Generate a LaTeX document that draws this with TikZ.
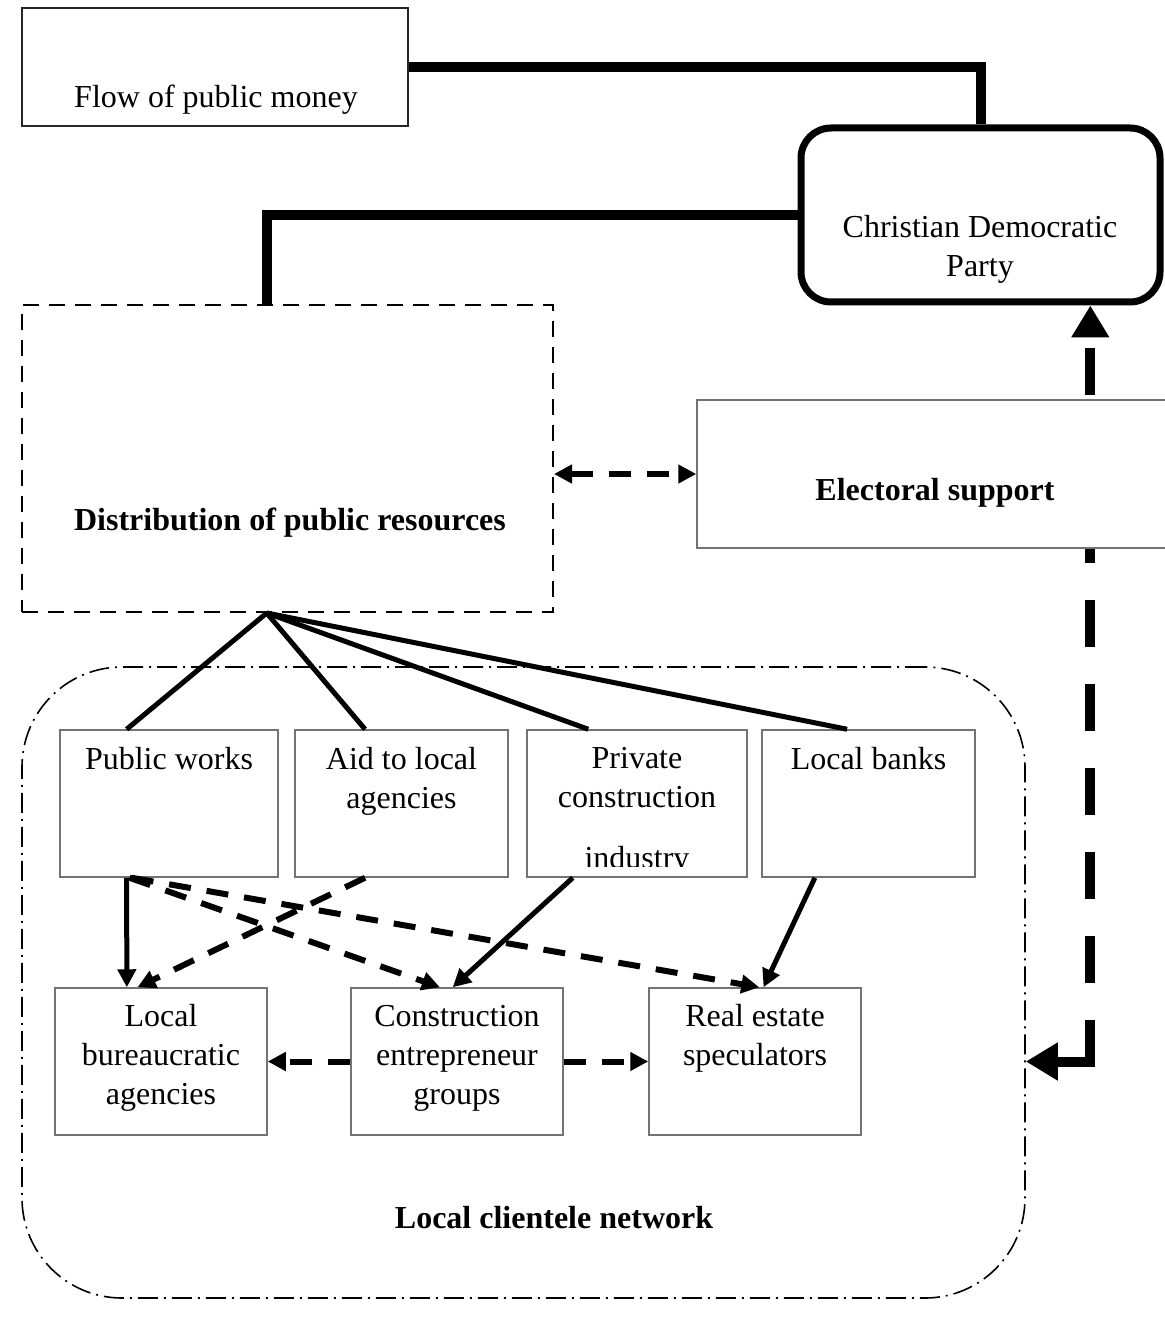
\documentclass[tikz,border=0pt]{standalone}
\usepackage{fontspec}
\setmainfont{Liberation Serif}
\usetikzlibrary{arrows.meta,calc}
\tikzset{
  txt/.style={font=\fontsize{16}{19.5}\selectfont, align=center, inner sep=0pt, anchor=base},
  head/.style={font=\fontsize{16}{19.5}\selectfont\bfseries, inner sep=0pt, anchor=base},
  cell/.style={draw=black!55, line width=0.75pt, inner sep=0pt, minimum height=73.5pt},
  tie/.style={line width=5pt},
  spoke/.style={line width=2.5pt},
  hint/.style={line width=3pt, dash pattern=on 11pt off 8pt},
  vote/.style={line width=5pt, <->, >={Triangle[length=16pt,width=18pt]},
    dash pattern=on 38pt off 18.5pt on 23.5pt off 18.5pt on 23.5pt off 18.5pt on 23.5pt off 18.5pt
      on 23.5pt off 18.5pt on 23.5pt off 18.5pt on 23.5pt off 18.5pt on 23.5pt off 18.5pt
      on 23.5pt off 18.5pt on 23.5pt off 18.5pt}
}
\begin{document}
\begin{tikzpicture}[x=0.5pt, y=-0.5pt, >={Triangle[length=9pt,width=9pt]}]
  \useasboundingbox (0,0) rectangle (1165,1342);

  % party level (multi-line texts sit on their last baseline)
  \node[draw=black!85, line width=1pt, inner sep=0pt, minimum width=193pt, minimum height=59pt] (flow) at (215,67) {};
  \node[txt] (flow-t) at (216,108) {Flow of public money};
  \node[draw, line width=3.5pt, rounded corners=15pt, inner sep=0pt, minimum width=179.5pt, minimum height=87pt] (cdp) at (980.5,215) {};
  \node[txt] (cdp-t) at (980,277) {Christian Democratic\\Party};
  \node[draw, line width=1pt, dash pattern=on 8pt off 5pt, inner sep=0pt, minimum width=265.5pt, minimum height=153.5pt] (dist) at (287.5,458.5) {};
  \node[head] (dist-t) at (290,530) {Distribution of public resources};
  \coordinate (dist-n) at ($(dist.north west)!.461!(dist.north east)$);
  \coordinate (dist-s) at ($(dist.south west)!.461!(dist.south east)$);

  % local level
  \node[draw, line width=0.8pt, dash pattern=on 10pt off 3pt on 1pt off 3pt, rounded corners=50pt, inner sep=0pt, minimum width=501.5pt, minimum height=315.5pt] (net) at (523.5,982.5) {};
  \node[head] (net-t) at (554,1228) {Local clientele network};

  \node[cell, minimum width=109pt] (pw) at (169,803.5) {};
  \node[cell, minimum width=106.5pt] (aid) at (401.5,803.5) {};
  \node[cell, minimum width=110pt] (priv) at (637,803.5) {};
  \node[cell, minimum width=106.5pt] (bank) at (868.5,803.5) {};
  \node[txt] (pw-t) at (169,769) {Public works};
  \node[txt] (aid-t) at (401.5,808) {Aid to local\\agencies};
  \node[txt] (priv-t) at (637,807) {Private\\construction};
  \begin{scope}
    \clip (priv.north west) rectangle ($(priv.south east)+(0,-11)$);
    \node[txt] (priv-b) at (637,868) {industry};
  \end{scope}
  \node[txt] (bank-t) at (868.5,769) {Local banks};

  \node[cell, minimum width=106pt] (bur) at (161,1061.5) {};
  \node[cell, minimum width=106pt] (con) at (457,1061.5) {};
  \node[cell, minimum width=106pt] (real) at (755,1061.5) {};
  \node[txt] (bur-t) at (161,1104) {Local\\bureaucratic\\agencies};
  \node[txt] (con-t) at (457,1104) {Construction\\entrepreneur\\groups};
  \node[txt] (real-t) at (755,1065) {Real estate\\speculators};

  % money and votes
  \draw[tie] (flow.east) -| (cdp.north);
  \draw[tie] (cdp.west) -| (dist-n);
  \draw[vote] (net.east |- con.east) -| ($(cdp.south west)!.8!(cdp.south east)$);
  \node[cell, fill=white, minimum width=236.5pt, minimum height=74pt] (elec) at (933.5,474) {};
  \node[head] (elec-t) at (935,500) {Electoral support};
  \draw[hint, <->] (dist.east |- elec.west) -- (elec.west);

  \draw[spoke] (dist-s) -- ($(pw.north west)!.307!(pw.north east)$);
  \draw[spoke] (dist-s) -- ($(aid.north west)!.33!(aid.north east)$);
  \draw[spoke] (dist-s) -- ($(priv.north west)!.28!(priv.north east)$);
  \draw[spoke] (dist-s) -- ($(bank.north west)!.4!(bank.north east)$);

  \draw[spoke, ->] ($(pw.south west)!.307!(pw.south east)$) -- ($(bur.north west)!.34!(bur.north east)$);
  \draw[hint, ->] ($(pw.south west)!.32!(pw.south east)$) -- ($(con.north west)!.42!(con.north east)$);
  \draw[hint, ->] ($(pw.south west)!.33!(pw.south east)$) -- ($(real.north west)!.52!(real.north east)$);
  \draw[hint, ->] ($(aid.south west)!.33!(aid.south east)$) -- ($(bur.north west)!.39!(bur.north east)$);
  \draw[spoke, ->] ($(priv.south west)!.21!(priv.south east)$) -- ($(con.north west)!.48!(con.north east)$);
  \draw[spoke, ->] ($(bank.south west)!.25!(bank.south east)$) -- ($(real.north west)!.54!(real.north east)$);
  \draw[hint, ->] (con.west) -- (bur.east);
  \draw[hint, ->] (con.east) -- (real.west);
\end{tikzpicture}
\end{document}
